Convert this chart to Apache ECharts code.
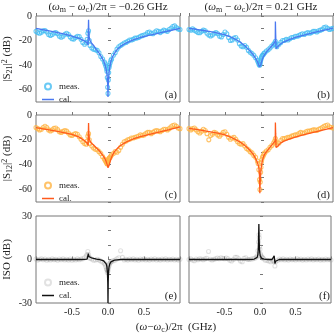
<!DOCTYPE html>
<html>
<head>
<meta charset="utf-8">
<title>S21 / S12 / ISO</title>
<script src="https://cdn.jsdelivr.net/npm/echarts@6.0.0/dist/echarts.min.js"></script>
<style>
  html, body { margin: 0; padding: 0; background: #fff; }
  #main { width: 334px; height: 336px; }
</style>
</head>
<body>
<div id="main"></div>
<script>
// frequency detuning (GHz), left column: (wm-wc)/2pi = -0.26 GHz
const xCalL = [-1.0, -0.9, -0.8, -0.7, -0.6, -0.5, -0.4, -0.33, -0.29, -0.276, -0.273, -0.27, -0.266, -0.26, -0.25,
  -0.23, -0.2, -0.16, -0.12, -0.09, -0.06, -0.04, -0.025, -0.015, -0.008, -0.003, 0, 0.003, 0.008, 0.015,
  0.025, 0.04, 0.06, 0.09, 0.13, 0.18, 0.25, 0.35, 0.45, 0.55, 0.65, 0.75, 0.85, 1.0];
const calA = [-10, -11.2, -12.3, -13.5, -14.8, -16.3, -18.2, -20.2, -21.8, -23.5, -10, -3, -13, -17.5, -20,
  -22, -24, -27.5, -30.5, -33.5, -36.5, -40, -43.5, -47, -52, -58, -66, -57, -51, -46,
  -41.5, -37, -33.5, -30.5, -27, -24.5, -22, -19.5, -17.5, -16, -14.8, -13.4, -12, -10];
const calC = [-10.2, -11.2, -12.2, -13.2, -14.3, -15.6, -17.8, -20.5, -22.5, -24.5, -14, -6.5, -15, -19, -21,
  -22.8, -24.2, -26.5, -28.8, -31, -33.5, -35.5, -37.5, -39, -40.5, -41.8, -42.5, -43, -42, -40.5,
  -38.5, -35.5, -32.5, -29.5, -26.8, -24.3, -21.8, -19.3, -17.4, -15.9, -14.5, -13.2, -11.8, -9.6];
const calE = [0, 0, 0, 0, 0, 0, 0, 0.1, 0.3, -1, 4, 3.5, 2, 1.5, 1.2,
  1.2, 0.8, 0.3, 0, -0.5, -1, -1.8, -3, -5, -9, -16, -30, -15, -8, -5,
  -3, -1.6, -0.9, -0.4, -0.2, 0, 0, 0, 0, 0, 0, 0, 0, 0];

// right column: (wm-wc)/2pi = 0.21 GHz
const xCalR = [-1.0, -0.9, -0.8, -0.7, -0.6, -0.5, -0.4, -0.3, -0.22, -0.16, -0.11, -0.08, -0.055, -0.04, -0.03,
  -0.022, -0.016, -0.012, -0.008, -0.003, 0.003, 0.01, 0.02, 0.035, 0.055, 0.08, 0.11, 0.14, 0.17, 0.19,
  0.198, 0.2, 0.204, 0.21, 0.22, 0.24, 0.27, 0.32, 0.4, 0.5, 0.6, 0.7, 0.8, 0.9, 1.0];
const calB = [-10, -10.8, -11.8, -12.8, -14, -15.4, -17.6, -20.8, -24.5, -28, -31.5, -34, -36.5, -38.5, -40,
  -41.5, -42.8, -42, -41, -39.8, -38.3, -36.8, -35, -33, -31, -29, -27, -25, -23, -21.5,
  -20.5, -4.5, -15, -26.5, -26, -24.5, -22.8, -21, -19, -17, -15.5, -14, -12.5, -11.2, -9.8];
const calD = [-10.7, -11.5, -12.5, -13.5, -14.6, -16, -18.3, -21.4, -24.8, -28, -31.5, -34.5, -37.5, -40, -42.5,
  -47, -63, -56, -51, -46, -42.5, -39.5, -36.5, -33.5, -31, -29.2, -27, -24.8, -22.8, -21.5,
  -20.8, -6, -15, -26.2, -26, -24.5, -22.6, -21, -19.2, -17.4, -15.8, -14.4, -13, -11.6, -10.2];
const calF = [0, 0, 0, 0, 0, 0, 0, 0, 0, 0, 0.1, 0.3, 0.7, 1.5, 3.5,
  9, 24.5, 14, 8, 4.5, 2.8, 1.8, 1, 0.5, 0.2, 0.1, 0, 0, 0, -0.2,
  -0.3, 2.5, 0.5, -2.8, -1.2, -0.3, 0, 0, 0, 0, 0, 0, 0, 0, 0];

// measured points
const xMeasL = [-1, -0.975, -0.95, -0.925, -0.9, -0.875, -0.85, -0.825, -0.8, -0.775, -0.75, -0.725, -0.7, -0.675, -0.65,
  -0.625, -0.6, -0.575, -0.55, -0.525, -0.5, -0.475, -0.45, -0.425, -0.4, -0.375, -0.35, -0.325, -0.3,
  -0.29, -0.28, -0.27, -0.26, -0.25,
  -0.225, -0.2, -0.175, -0.15, -0.125, -0.1, -0.075, -0.05,
  -0.04, -0.03, -0.02, -0.015, -0.01, -0.005, 0, 0.005, 0.01, 0.015, 0.02, 0.03, 0.04,
  0.05, 0.075, 0.1, 0.125, 0.15, 0.175, 0.2, 0.225, 0.25, 0.275, 0.3, 0.325, 0.35, 0.375, 0.4, 0.425, 0.45, 0.475, 0.5,
  0.525, 0.55, 0.575, 0.6, 0.625, 0.65, 0.675, 0.7, 0.725, 0.75, 0.775, 0.8, 0.825, 0.85, 0.875, 0.9, 0.925, 0.95, 0.975, 1.0];
const measA = [-12.5, -13.5, -14, -13.2, -12, -11.8, -13, -15, -15.8, -15, -13.8, -13.5, -14.5, -16.5, -17.3,
  -16.5, -14.8, -14, -15, -17, -18.5, -18.8, -17.5, -16.5, -16.8, -19, -21.5, -23, -21.5,
  -19, -14, -12, -20, -24,
  -26, -27, -27.5, -28, -30, -33, -35, -37.5,
  -39, -41, -43, -45, -50, -58, -63, -52, -46, -42, -40, -38, -36,
  -35, -32, -30, -27, -25, -24, -23, -22, -21.5, -20.5, -19.5, -19.5, -19, -18, -18, -17.5, -16.5, -16, -15.5,
  -15, -13.5, -13, -14, -14.5, -13, -12, -12.5, -13.5, -12.5, -11.5, -12, -12.5, -11, -10, -8.5, -8, -9.5, -10.5, -11];
const measC = [-10, -11, -12, -11.5, -10, -9, -10, -12, -12.8, -12, -10.8, -10.5, -11.8, -13.5, -14,
  -13.2, -12.5, -13, -14.5, -16, -16.5, -15.5, -15, -15.5, -17.5, -19.5, -21.5, -23, -23.5,
  -21, -17, -15, -20, -23,
  -25, -26.5, -27.5, -28, -29.5, -31, -33.5, -35.5,
  -36.5, -37.5, -38, -39, -39.5, -38, -37, -36.5, -35.5, -35, -34.5, -34, -33,
  -32, -31, -29.5, -30, -28.5, -26, -23.5, -21.5, -21, -20, -19.5, -18.5, -18.5, -18, -17.5, -17, -16, -16.5, -16,
  -15, -14, -14, -15, -14, -13, -12.5, -13, -13.5, -12.5, -11.5, -11.5, -12, -11, -9.5, -8.5, -8, -9, -10.5, -11];
const measE = [0.3, -0.4, 0.2, 0.5, -0.2, 0.3, -0.5, 0.2, -0.3, 0.4, -0.2, 0.1, -0.5, 0.3, -0.2,
  0.4, -0.3, 0.2, -0.4, 0.3, -0.5, 0.2, -0.3, 0.4, -0.2, 0.3, 0.5, 1.2, 2.5,
  3.5, 5.5, 3.5, 1.5, 0.8,
  0.3, -0.5, -0.3, 0.2, -0.4, -1, -1.8, -2.5,
  -3.5, -5, -6.5, -7, -9, -7.5, -8, -6, -5, -4, -3, -2.2, -1.5,
  -1.2, -0.8, -0.3, 0.5, 1.2, 6, 1.5, -0.3, 0.2, -0.4, 0.3, -0.2, 0.4, -0.3, 0.2, -0.5, 0.3, -0.2, 0.4,
  -0.3, 0.2, -0.4, 0.3, -0.2, 0.5, -0.3, 0.2, -0.4, 0.3, -0.2, 0.4, -0.3, 0.2, -0.2, 0.3, -0.3, 0.2, -0.4, 0.2];

const xMeasR = [-1, -0.975, -0.95, -0.925, -0.9, -0.875, -0.85, -0.825, -0.8, -0.775, -0.75, -0.725, -0.7, -0.675, -0.65,
  -0.625, -0.6, -0.575, -0.55, -0.525, -0.5, -0.475, -0.45, -0.425, -0.4, -0.375, -0.35, -0.325, -0.3,
  -0.275, -0.25, -0.225, -0.2, -0.175, -0.15, -0.125, -0.1, -0.075, -0.05,
  -0.04, -0.03, -0.02, -0.015, -0.01, -0.005, 0, 0.005, 0.01, 0.02, 0.03, 0.04,
  0.05, 0.075, 0.1, 0.125, 0.15, 0.175,
  0.19, 0.2, 0.21, 0.22,
  0.25, 0.275, 0.3, 0.325, 0.35, 0.375, 0.4, 0.425, 0.45, 0.475, 0.5, 0.525, 0.55, 0.575, 0.6, 0.625,
  0.65, 0.675, 0.7, 0.725, 0.75, 0.775, 0.8, 0.825, 0.85, 0.875, 0.9, 0.925, 0.95, 0.975, 1.0];
const measB = [-11, -11.5, -10.5, -11.5, -12.5, -13.5, -13.6, -12.5, -11.5, -12, -14, -15.5, -16.3, -15.5, -14,
  -13.5, -14.5, -16.5, -17, -15, -13, -14.5, -17.5, -20, -19.5, -18, -17.5, -19.5, -22.5,
  -24.5, -25, -24, -25.5, -28, -29.5, -30.5, -32, -34, -36,
  -37.5, -39, -40, -39.5, -38, -36.5, -35, -34, -33, -32, -31.5, -30.5,
  -30, -28.5, -27.5, -26, -24.5, -23,
  -22, -20.5, -23.5, -25,
  -23, -21.5, -20, -20, -19, -19.5, -18.5, -17.5, -17.5, -16.5, -16.5, -16, -15, -14.5, -15, -14,
  -13.5, -14, -13.5, -12.5, -12.5, -13, -12, -11.5, -11, -9.5, -9, -10, -11, -10.5, -10];
const measD = [-11, -12, -11, -10.5, -12, -13.5, -14.5, -13, -11.5, -12.5, -15, -20, -16.5, -15.5, -14,
  -14.5, -16, -17, -15.5, -14, -13.5, -15.5, -18, -19.5, -18.5, -18, -19.5, -21.5, -23,
  -23.5, -23, -25, -27, -28, -29.5, -30.5, -32.5, -34, -37,
  -39, -44, -52, -60, -54, -46, -42, -38, -36, -34, -33, -31.5,
  -30.5, -29, -28, -26, -24.5, -22.5,
  -21, -19, -22, -24,
  -22.5, -20.5, -19, -19, -18.5, -18, -18, -17, -16.5, -16, -16, -15, -14, -14.5, -14.5, -13.5,
  -13, -13, -12.5, -12, -12, -12.5, -11.5, -11, -10, -9, -8.5, -8, -9.5, -10, -10.5];
const measF = [0, 0.4, -0.3, -0.8, 0.3, -0.2, 0.5, 0.3, -0.2, 0.4, 0.8, 5.5, 0.2, -0.3, 0.1,
  0.5, 1, 0.5, 1.2, 0.8, 0.5, 1, 0.5, -0.5, -1, 0, 1.5, 1.5, 0.5,
  -1, -1.5, 0.8, 1.2, 0, 0, 0.3, 0.5, 0.8, 1.5,
  2.5, 6, 12, 17, 15, 9, 7, 4, 3, 2, 1.5, 1,
  0.5, -0.5, -0.5, -1, -1.5, -0.5,
  -1, -1.5, -4.5, -1.5,
  -0.5, 0.3, -0.2, 0.4, -0.3, 0.2, -0.4, 0.3, -0.2, 0.2, -0.3, 0.4, -0.2, 0.3, -0.4, 0.2,
  -0.3, 0.3, -0.2, 0.4, -0.3, 0.2, -0.2, 0.3, -0.4, 0.2, -0.3, 0.3, -0.2, 0.2, -0.3];

const FONT = '"Liberation Serif", "DejaVu Serif", serif';
const BORDER = '#777';
const LINE_ICON = 'path://M0,0H24V3H0Z';

const blue = { meas: '#45bdf3', cal: '#4a78f0' };
const orange = { meas: '#ffb444', cal: '#ff5a1c' };
const gray = { meas: 'rgba(150,150,150,0.35)', cal: '#111' };

const sub = { fontSize: 8, fontFamily: FONT, verticalAlign: 'bottom', lineHeight: 9 };
const sup = { fontSize: 8, fontFamily: FONT, verticalAlign: 'top', lineHeight: 9 };
const ital = { fontSize: 11, fontFamily: FONT, fontStyle: 'italic' };

const panels = [
  { id: 'a', left: 36, top: 16, h: 86, iso: false, mx: xMeasL, my: measA, cx: xCalL, cy: calA, c: blue,
    yName: '|S{sub|21}|{sup|2} (dB)', legendTop: 82 },
  { id: 'b', left: 189, top: 16, h: 86, iso: false, mx: xMeasR, my: measB, cx: xCalR, cy: calB, c: blue },
  { id: 'c', left: 36, top: 115, h: 87, iso: false, mx: xMeasL, my: measC, cx: xCalL, cy: calC, c: orange,
    yName: '|S{sub|12}|{sup|2} (dB)', legendTop: 181 },
  { id: 'd', left: 189, top: 115, h: 87, iso: false, mx: xMeasR, my: measD, cx: xCalR, cy: calD, c: orange },
  { id: 'e', left: 36, top: 216, h: 87, iso: true, mx: xMeasL, my: measE, cx: xCalL, cy: calE, c: gray,
    yName: 'ISO (dB)', legendTop: 278, xLabels: true },
  { id: 'f', left: 189, top: 216, h: 87, iso: true, mx: xMeasR, my: measF, cx: xCalR, cy: calF, c: gray,
    xLabels: true },
];

function pairs(xs, ys) {
  return xs.map((x, i) => [x, ys[i]]);
}

const grid = [];
const xAxis = [];
const yAxis = [];
const series = [];
const legend = [];
const graphic = [];

panels.forEach((p, i) => {
  grid.push({
    left: p.left, top: p.top, width: 144, height: p.h,
    show: true, borderColor: BORDER, borderWidth: 1, backgroundColor: 'transparent'
  });
  xAxis.push({
    gridIndex: i, type: 'value', min: -1, max: 1, interval: 0.5,
    axisLine: { show: false },
    splitLine: { show: false },
    axisTick: { inside: true, length: 3, lineStyle: { color: BORDER } },
    axisLabel: {
      show: !!p.xLabels, margin: 4, fontSize: 10, fontFamily: FONT, color: '#222',
      formatter: v => (Math.abs(v) > 0.99 ? '' : v.toFixed(1))
    }
  });
  yAxis.push({
    gridIndex: i, type: 'value',
    min: p.iso ? -30 : -70, max: p.iso ? 30 : 0, interval: 10,
    axisLine: { show: false },
    splitLine: { show: false },
    axisTick: { inside: true, length: 3, lineStyle: { color: BORDER } },
    axisLabel: {
      show: !!p.yName, margin: 4, fontSize: 10, fontFamily: FONT, color: '#222',
      formatter: v => (v % (p.iso ? 30 : 20) === 0 ? String(v) : '')
    },
    name: p.yName || '',
    nameLocation: 'middle',
    nameRotate: 90,
    nameGap: 22,
    nameTextStyle: { fontSize: 11, fontFamily: FONT, color: '#222', lineHeight: 13, rich: { sub: sub, sup: sup } }
  });
  series.push({
    type: 'scatter', name: 'meas._' + p.id, xAxisIndex: i, yAxisIndex: i,
    data: pairs(p.mx, p.my),
    symbol: 'circle', symbolSize: 4,
    itemStyle: { color: 'rgba(255,255,255,0)', borderColor: p.c.meas, borderWidth: 1.1 },
    z: 2, silent: true
  });
  series.push({
    type: 'line', name: 'cal._' + p.id, xAxisIndex: i, yAxisIndex: i,
    data: pairs(p.cx, p.cy),
    symbol: 'none',
    lineStyle: { color: p.c.cal, width: 1.3 },
    itemStyle: { color: p.c.cal },
    z: 3, silent: true
  });
  if (p.legendTop) {
    legend.push({
      left: p.left + 6, top: p.legendTop, orient: 'vertical', padding: 0,
      itemGap: 4, itemWidth: 12, itemHeight: 6, selectedMode: false, symbolKeepAspect: true,
      data: [
        { name: 'meas._' + p.id, icon: 'circle' },
        { name: 'cal._' + p.id, icon: LINE_ICON }
      ],
      formatter: n => n.split('_')[0],
      textStyle: { fontFamily: FONT, fontSize: 9, color: '#222' }
    });
  }
  graphic.push({
    type: 'text', x: p.left + 141, y: p.top + p.h - 7,
    style: { text: '(' + p.id + ')', fontSize: 11, fontFamily: FONT, fill: '#222', align: 'right', verticalAlign: 'middle' }
  });
});

function titleText(x, y, txt) {
  return {
    type: 'text', x: x, y: y,
    style: {
      text: txt, fontSize: 11, fontFamily: FONT, fill: '#222', align: 'center', verticalAlign: 'middle',
      lineHeight: 13, rich: { s: sub, w: ital }
    }
  };
}

graphic.push(titleText(108, 7, '({w|ω}{s|m} − {w|ω}{s|c})/2π = −0.26 GHz'));
graphic.push(titleText(261, 7, '({w|ω}{s|m} − {w|ω}{s|c})/2π = 0.21 GHz'));
graphic.push(titleText(176, 327, '({w|ω}−{w|ω}{s|c})/2π  (GHz)'));

const chart = echarts.init(document.getElementById('main'), null, { renderer: 'canvas' });
chart.setOption({
  animation: false,
  backgroundColor: '#fff',
  grid: grid,
  xAxis: xAxis,
  yAxis: yAxis,
  legend: legend,
  series: series,
  graphic: graphic
});
</script>
</body>
</html>
